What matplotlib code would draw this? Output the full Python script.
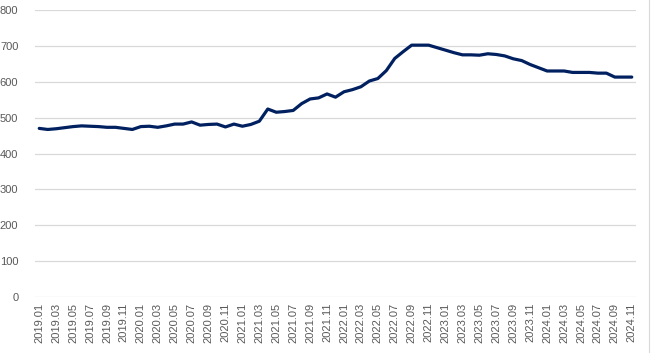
"""Monthly series 2019.01 - 2024.11, Excel-style line chart."""

import matplotlib

matplotlib.use("Agg")
import matplotlib.pyplot as plt

# %% Data
years = [2019, 2020, 2021, 2022, 2023, 2024]
months = [f"{y}.{m:02d}" for y in years for m in range(1, 13)][:71]

values = [
    470, 467, 469, 472, 475, 477, 476, 475, 473, 473, 470, 467,  # 2019
    475, 476, 473, 477, 482, 482, 488, 479, 481, 482, 474, 482,  # 2020
    476, 481, 490, 524, 515, 517, 520, 539, 552, 555, 566, 557,  # 2021
    572, 578, 586, 602, 609, 631, 665, 684, 702, 702, 702, 695,  # 2022
    688, 681, 675, 675, 674, 678, 676, 672, 664, 659, 648, 639,  # 2023
    630, 630, 630, 626, 626, 626, 624, 624, 613, 613, 613,  # 2024
]

y_ticks = [0, 100, 200, 300, 400, 500, 600, 700, 800]

# %% Plot
plt.rcParams["font.family"] = ["Liberation Sans", "DejaVu Sans"]
fig = plt.figure(figsize=(6.51, 3.53), dpi=100)
ax = fig.add_axes([35 / 651, 1 - 297 / 353, 601 / 651, 287 / 353])

x = list(range(len(values)))
ax.plot(x, values, color="#002060", linewidth=2.3, solid_capstyle="round",
        solid_joinstyle="round", zorder=3)

ax.set_xlim(-0.5, len(values) - 0.5)
ax.set_ylim(0, 800)
ax.set_yticks(y_ticks)
ax.set_xticks(x[::2])
ax.set_xticklabels(months[::2], rotation=90)

ax.grid(axis="y", color="#d9d9d9", linewidth=0.9)
ax.set_axisbelow(True)
for side in ["top", "right", "left", "bottom"]:
    ax.spines[side].set_visible(False)
ax.tick_params(axis="both", length=0, labelsize=8, colors="#595959")
ax.tick_params(axis="y", pad=12)
ax.tick_params(axis="x", pad=4)

# chart border on the right
fig.add_artist(plt.Line2D([649 / 651, 649 / 651], [0, 1], color="#d9d9d9",
                          linewidth=0.8))

fig.savefig("out.png", dpi=100)
